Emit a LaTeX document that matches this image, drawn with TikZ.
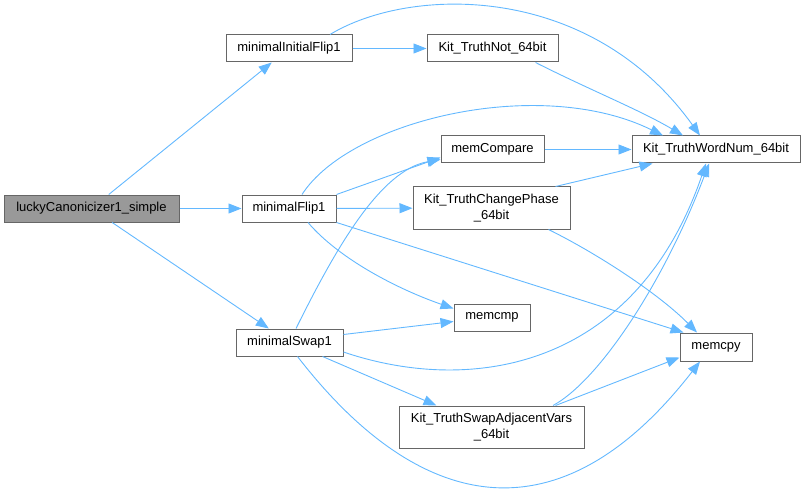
\documentclass[tikz,border=0pt]{standalone}
\usepackage{fontspec}
\setmainfont{Liberation Sans}
\usetikzlibrary{arrows.meta}
\definecolor{edgeblue}{HTML}{63B8FF}
\definecolor{boxgrey}{HTML}{666666}
\definecolor{fillgrey}{HTML}{999999}
\begin{document}
\begin{tikzpicture}[x=1pt,y=-1pt,
  box/.style={draw=boxgrey, line width=1pt, fill=white, inner sep=0pt,
    font=\fontsize{13}{16}\selectfont, align=center, minimum height=27pt},
  tallbox/.style={box, minimum height=42pt},
  edge/.style={draw=edgeblue, line width=0.9pt, -{Triangle[length=13pt,width=10pt]}}]
\useasboundingbox (0,0) rectangle (805,489);
\node[box, fill=fillgrey, minimum width=175pt] (lucky) at (91.5,208.5) {luckyCanonicizer1\_simple};
\node[box, minimum width=126pt] (mIF) at (289,48.5) {minimalInitialFlip1};
\node[box, minimum width=131pt] (KTN) at (492.5,48.5) {Kit\_TruthNot\_64bit};
\node[box, minimum width=168pt] (KTW) at (716,149.5) {Kit\_TruthWordNum\_64bit};
\node[box, minimum width=103pt] (memCompare) at (492.5,149.5) {memCompare};
\node[box, minimum width=94pt] (mF) at (289,208.5) {minimalFlip1};
\node[tallbox, minimum width=157pt] (KTCP) at (491.5,208) {Kit\_TruthChangePhase\\\_64bit};
\node[box, minimum width=76pt] (memcmp) at (492,317.5) {memcmp};
\node[box, minimum width=107pt] (mS) at (289.5,342.5) {minimalSwap1};
\node[box, minimum width=72pt, minimum height=28pt] (memcpy) at (716,347) {memcpy};
\node[tallbox, minimum width=185pt] (KTSAV) at (491.5,427) {Kit\_TruthSwapAdjacentVars\\\_64bit};

\draw[edge] (lucky) -- (mIF);
\draw[edge] (lucky) -- (mF);
\draw[edge] (lucky) -- (mS);
\draw[edge] (mIF) -- (KTN);
\draw[edge] ([xshift=41pt]mIF.north) .. controls (410,-14) and (590,-18) .. ([xshift=-16pt]KTW.north);
\draw[edge] ([xshift=43pt]KTN.south) .. controls (590,90) and (640,110) .. ([xshift=-33pt]KTW.north);
\draw[edge] ([xshift=13pt]mF.north) .. controls (350,120) and (540,75) .. ([xshift=-53pt]KTW.north);
\draw[edge] (mF.north east) -- ([yshift=6pt]memCompare.south west);
\draw[edge] (mF) -- (KTCP);
\draw[edge] ([xshift=19pt]mF.south) .. controls (340,260) and (400,290) .. ([yshift=-5pt]memcmp.north west);
\draw[edge] (mF.south east) -- ([xshift=4pt]memcpy.north west);
\draw[edge] (memCompare) -- (KTW);
\draw[edge] ([xshift=-15pt]KTCP.north east) -- ([xshift=21pt]KTW.south west);
\draw[edge] ([xshift=-22pt]KTCP.south east) .. controls (600,255) and (660,295) .. ([xshift=-19pt]memcpy.north);
\draw[edge] ([xshift=6.5pt]mS.north) .. controls (335,250) and (380,170) .. ([yshift=4pt]memCompare.south west);
\draw[edge] ([yshift=8pt]mS.east) -- ([yshift=-4pt]memcmp.west);
\draw[edge] ([yshift=-9.5pt]mS.east) .. controls (470,395) and (635,370) .. ([xshift=-10pt]KTW.south);
\draw[edge] ([xshift=33pt]mS.south) -- ([xshift=38pt]KTSAV.north west);
\draw[edge] ([xshift=8pt]mS.south) .. controls (420,515) and (560,542) .. ([xshift=-16pt]memcpy.south);
\draw[edge] ([xshift=61.5pt]KTSAV.north) .. controls (600,380) and (665,280) .. ([xshift=-7pt]KTW.south);
\draw[edge] ([xshift=64pt]KTSAV.north) -- ([yshift=4pt]memcpy.south west);
\end{tikzpicture}
\end{document}
